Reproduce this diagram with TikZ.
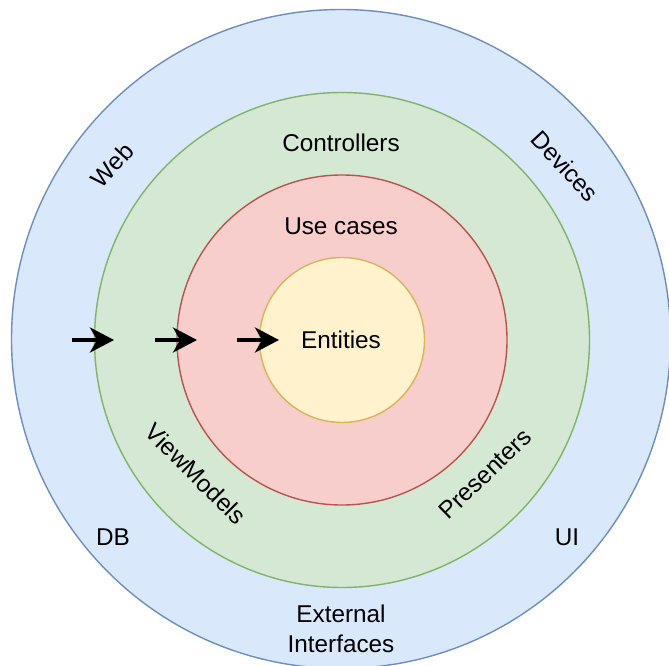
\documentclass[tikz,border=0pt]{standalone}
\usepackage{fontspec}
\setmainfont{Liberation Sans}
\usetikzlibrary{arrows.meta}
\definecolor{bluef}{HTML}{DAE8FC}\definecolor{blued}{HTML}{6C8EBF}
\definecolor{greenf}{HTML}{D5E8D4}\definecolor{greend}{HTML}{82B366}
\definecolor{redf}{HTML}{F8CECC}\definecolor{redd}{HTML}{B85450}
\definecolor{yellowf}{HTML}{FFF2CC}\definecolor{yellowd}{HTML}{D6B656}
\begin{document}
\begin{tikzpicture}[x=1pt,y=-1pt,
  ring/.style={circle,inner sep=0pt,line width=1.4pt},
  lbl/.style={font=\fontsize{24.3}{30}\selectfont,inner sep=0pt,align=center},
  arr/.style={line width=4pt,-{Stealth[length=24pt,width=25pt,inset=7pt]}}]
\useasboundingbox (0,0) rectangle (669,666);
\node[ring,draw=blued,fill=bluef,minimum size=659pt] (outer) at (341,339) {};
\node[ring,draw=greend,fill=greenf,minimum size=495pt] (green) at (342,340) {};
\node[ring,draw=redd,fill=redf,minimum size=330pt] (red) at (342,340) {};
\node[ring,draw=yellowd,fill=yellowf,minimum size=165pt] (yellow) at (342,340) {};
\node[lbl] (ctrl) at (341,143) {Controllers};
\node[lbl] (uc) at (341,226) {Use cases};
\node[lbl] (ent) at (341,340) {Entities};
\node[lbl,rotate=47] (web) at (112,165) {Web};
\node[lbl,rotate=-47] (dev) at (565,166) {Devices};
\node[lbl,rotate=-45] (vm) at (196,474) {ViewModels};
\node[lbl,rotate=44] (pres) at (485,474) {Presenters};
\node[lbl] (db) at (113,537) {DB};
\node[lbl] (ui) at (567,537) {UI};
\node[lbl] (ext) at (341,629) {External\\Interfaces};
\coordinate (a1s) at (72,340); \coordinate (a1e) at (114,340);
\coordinate (a2s) at (155,340); \coordinate (a2e) at (197,340);
\coordinate (a3s) at (237,340); \coordinate (a3e) at (279,340);
\draw[arr] (a1s) -- (a1e);
\draw[arr] (a2s) -- (a2e);
\draw[arr] (a3s) -- (a3e);
\end{tikzpicture}
\end{document}
